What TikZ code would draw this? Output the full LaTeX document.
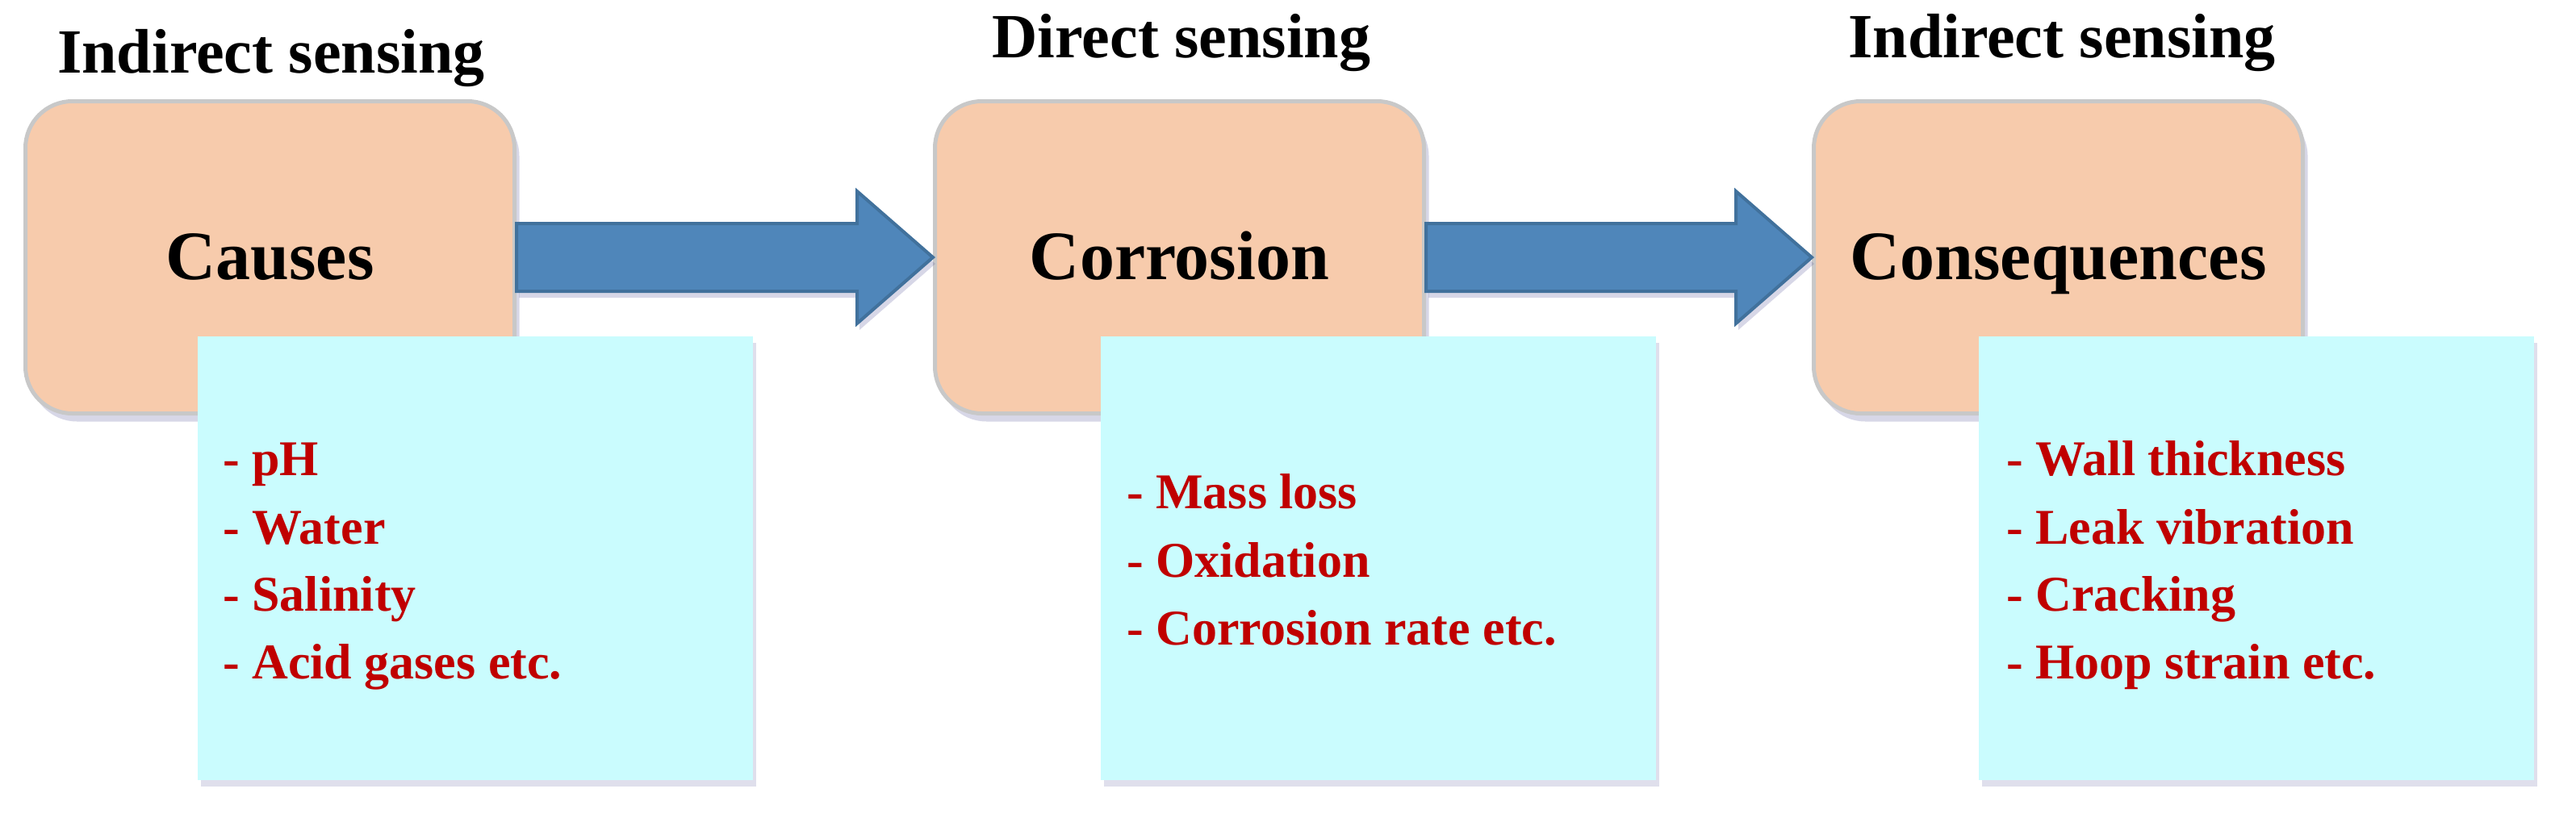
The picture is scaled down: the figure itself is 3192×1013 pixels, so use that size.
\documentclass[tikz,border=0pt]{standalone}
\usepackage{fontspec}
\setmainfont{Liberation Serif}
\usetikzlibrary{calc,shadows}
\definecolor{peach}{HTML}{F7CBAC}
\definecolor{peachline}{HTML}{C8C8C8}
\definecolor{cyanbox}{HTML}{CAFCFE}
\definecolor{arrowfill}{HTML}{4F86BA}
\definecolor{arrowline}{HTML}{41719C}
\definecolor{listred}{HTML}{C00000}
\tikzset{
  x=1pt,y=-1pt,
  mainbox/.style={draw=peachline,line width=5pt,fill=peach,rounded corners=58pt,minimum width=606pt,minimum height=387pt,inner sep=0pt,
    drop shadow={shadow xshift=6pt,shadow yshift=-10pt,fill=blue!25!gray,opacity=0.25}},
  listbox/.style={fill=cyanbox,minimum width=688pt,minimum height=550pt,inner sep=0pt,
    drop shadow={shadow xshift=4pt,shadow yshift=-8pt,fill=blue!25!gray,opacity=0.2}},
  bigarrow/.style={fill=arrowfill,draw=arrowline,line width=4pt,line join=miter,
    drop shadow={shadow xshift=3pt,shadow yshift=-8pt,fill=blue!25!gray,opacity=0.25}},
  title/.style={font=\bfseries\fontsize{78}{90}\selectfont,anchor=base,inner sep=0pt},
  boxlabel/.style={font=\bfseries\fontsize{86}{100}\selectfont,anchor=base,inner sep=0pt},
  item/.style={font=\bfseries\fontsize{62}{74}\selectfont,text=listred,anchor=base west,inner sep=0pt}
}
\begin{document}
\begin{tikzpicture}
\useasboundingbox (0,0) rectangle (3192,1013);
% main boxes
\node[mainbox] (b1) at (334.5,319) {};
\node[mainbox] (b2) at (1461.5,319) {};
\node[mainbox] (b3) at (2550.5,319) {};
% arrows
\draw[bigarrow] ($(b1.east)+(0,-42)$) -- ($(b2.west)+(-94,-42)$) -- ($(b2.west)+(-94,-82)$) -- (b2.west)
  -- ($(b2.west)+(-94,82)$) -- ($(b2.west)+(-94,42)$) -- ($(b1.east)+(0,42)$) -- cycle;
\draw[bigarrow] ($(b2.east)+(0,-42)$) -- ($(b3.west)+(-94,-42)$) -- ($(b3.west)+(-94,-82)$) -- (b3.west)
  -- ($(b3.west)+(-94,82)$) -- ($(b3.west)+(-94,42)$) -- ($(b2.east)+(0,42)$) -- cycle;
% box labels
\node[boxlabel] (l1) at (334.5,346) {Causes};
\node[boxlabel] (l2) at (1461.5,346) {Corrosion};
\node[boxlabel] (l3) at (2550.5,346) {Consequences};
% titles
\node[title] (t1) at (336,90) {Indirect sensing};
\node[title] (t2) at (1464,71) {Direct sensing};
\node[title] (t3) at (2555,71) {Indirect sensing};
% list boxes
\node[listbox] (c1) at (589,692) {};
\node[listbox] (c2) at (1708,692) {};
\node[listbox] (c3) at (2796,692) {};
% lists
\node[item] (i11) at (276,589) {- pH};
\node[item] (i12) at (276,674) {- Water};
\node[item] (i13) at (276,757) {- Salinity};
\node[item] (i14) at (276,841) {- Acid gases etc.};
\node[item] (i21) at (1396,630) {- Mass loss};
\node[item] (i22) at (1396,715) {- Oxidation};
\node[item] (i23) at (1396,799) {- Corrosion rate etc.};
\node[item] (i31) at (2486,589) {- Wall thickness};
\node[item] (i32) at (2486,674) {- Leak vibration};
\node[item] (i33) at (2486,757) {- Cracking};
\node[item] (i34) at (2486,841) {- Hoop strain etc.};
\end{tikzpicture}
\end{document}
